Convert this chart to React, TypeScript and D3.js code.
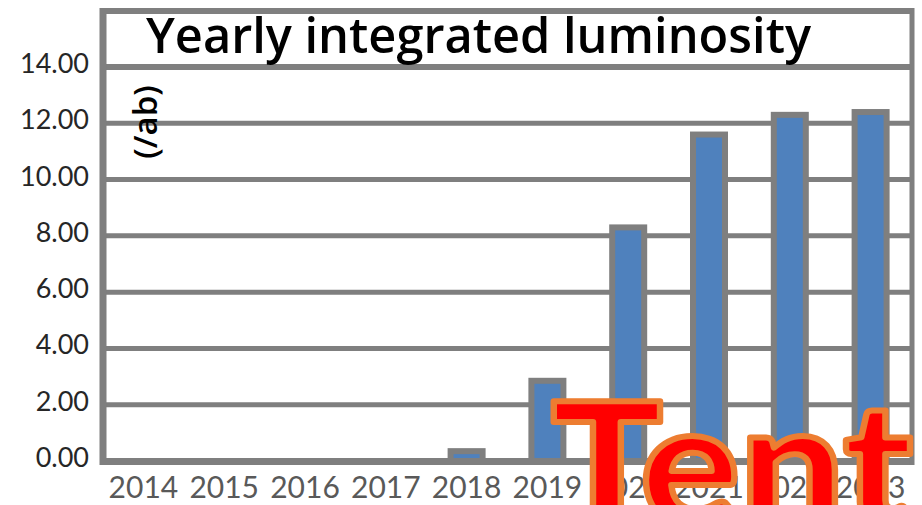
import React from "react";
import { scaleBand, scaleLinear } from "d3";

const years = ["2014", "2015", "2016", "2017", "2018", "2019", "2020", "2021", "2022", "2023"];
const lumi = [0, 0, 0, 0, 0.35, 2.85, 8.3, 11.6, 12.3, 12.4];
const yTicks = [0, 2, 4, 6, 8, 10, 12, 14];

const W = 922;
const H = 505;
const GRAY = "#7F7F7F";

export default function App() {
    const left = 103;
    const right = 911;
    const top = 11;
    const bottom = 461;

    const x = scaleBand()
        .domain(years)
        .range([left, right])
        .paddingInner(0.604)
        .paddingOuter(0.302);

    const y = scaleLinear().domain([0, 14]).range([bottom, 67]);

    return (
        <svg width={W} height={H} style={{ position: "absolute", left: 0, top: 0 }}>
            <rect width={W} height={H} fill="#fff" />

            {/* gridlines */}
            {yTicks.map(t => (
                <line
                    key={t}
                    x1={left}
                    x2={right}
                    y1={y(t)}
                    y2={y(t)}
                    stroke={GRAY}
                    strokeWidth={t === 14 ? 6 : 5}
                />
            ))}

            {/* bars */}
            {years.map((yr, i) => (
                <rect
                    key={yr}
                    x={x(yr)}
                    y={y(lumi[i])}
                    width={x.bandwidth()}
                    height={bottom - y(lumi[i])}
                    fill="#4F81BD"
                    stroke={GRAY}
                    strokeWidth={6}
                    style={{ display: lumi[i] > 0 ? undefined : "none" }}
                />
            ))}

            {/* frame */}
            <line x1={left} x2={left} y1={top - 3} y2={bottom + 4} stroke={GRAY} strokeWidth={7} />
            <line x1={left - 3} x2={right + 3} y1={bottom + 0.5} y2={bottom + 0.5} stroke={GRAY} strokeWidth={7} />
            <line x1={right + 1} x2={right + 1} y1={top - 3} y2={bottom + 4} stroke={GRAY} strokeWidth={5} />
            <line x1={left - 3} x2={right + 3} y1={top} y2={top} stroke={GRAY} strokeWidth={6} />

            {/* title */}
            <text
                x={146}
                y={53}
                fontFamily="'Comic Sans MS', 'Open Sans', sans-serif"
                fontWeight={600}
                fontSize={48}
                fill="#000"
                textLength={665}
                lengthAdjust="spacingAndGlyphs"
            >
                Yearly integrated luminosity
            </text>

            {/* y label */}
            <g transform="translate(145,122) rotate(-90)">
                <text
                    textAnchor="middle"
                    dy="0.35em"
                    fontFamily="'Comic Sans MS', 'Open Sans', sans-serif"
                    fontWeight={600}
                    fontSize={33}
                    fill="#000"
                >
                    (/ab)
                </text>
            </g>

            {/* y tick labels */}
            {yTicks.map(t => (
                <text
                    key={t}
                    x={89}
                    y={y(t) + 6}
                    textAnchor="end"
                    fontFamily="Lato, sans-serif"
                    fontSize={27}
                    fill="#262626"
                >
                    {t.toFixed(2)}
                </text>
            ))}

            {/* x tick labels */}
            {years.map(yr => (
                <text
                    key={yr}
                    x={(x(yr) ?? 0) + x.bandwidth() / 2}
                    y={498}
                    textAnchor="middle"
                    fontFamily="Lato, sans-serif"
                    fontSize={30}
                    fill="#595959"
                >
                    {yr}
                </text>
            ))}

            {/* watermark */}
            <text
                x={551}
                y={526}
                fontFamily="Lato, sans-serif"
                fontWeight={900}
                fontSize={172}
                fill="#FF0000"
                stroke="#ED7D31"
                strokeWidth={6}
                strokeLinejoin="round"
                textLength={362}
                lengthAdjust="spacingAndGlyphs"
            >
                Tent
            </text>
        </svg>
    );
}
